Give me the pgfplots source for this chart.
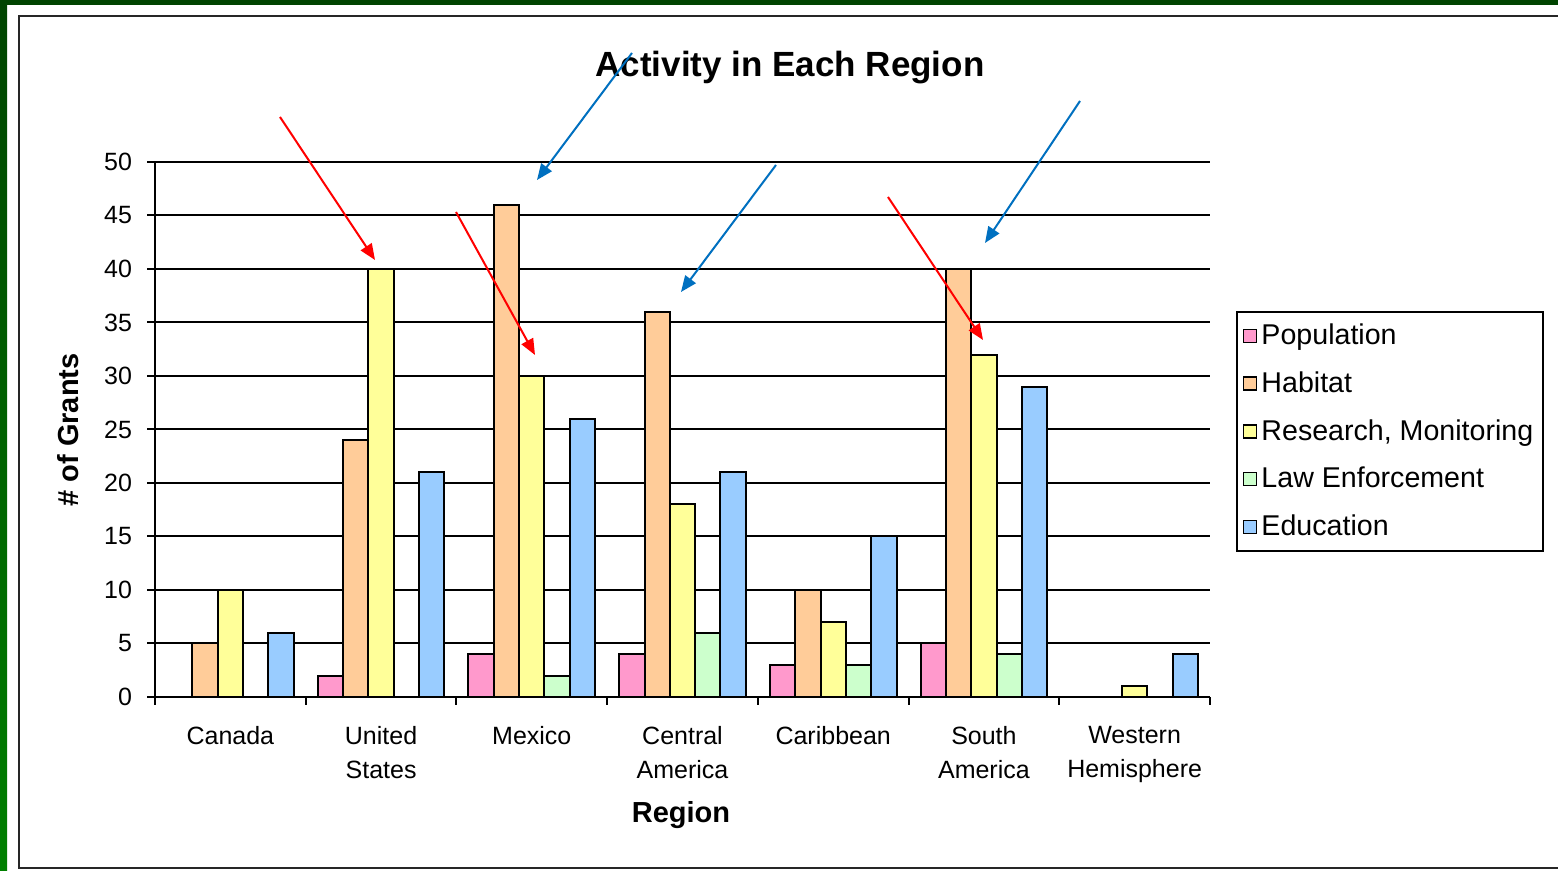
\documentclass[border=0pt]{standalone}
\usepackage{fontspec}
\setmainfont{Liberation Sans}
\usepackage{pgfplots}
\pgfplotsset{compat=1.18}
\usetikzlibrary{arrows.meta}

\definecolor{popc}{HTML}{FF99CC}
\definecolor{habc}{HTML}{FFCC99}
\definecolor{resc}{HTML}{FFFF99}
\definecolor{lawc}{HTML}{CCFFCC}
\definecolor{educ}{HTML}{99CCFF}
\definecolor{darkgr}{HTML}{004400}
\definecolor{brightgr}{HTML}{008000}
\definecolor{arrred}{HTML}{FF0000}
\definecolor{arrblue}{HTML}{0070C0}

\begin{document}
\begin{tikzpicture}[x=0.5pt,y=0.5pt]
% page background and slide frame
\useasboundingbox (0,0) rectangle (1558,871);
\fill[white] (0,0) rectangle (1558,871);
\shade[top color=darkgr,bottom color=brightgr] (0,0) rectangle (7,871);
\fill[darkgr] (0,866) rectangle (1558,871);
\draw[line width=1pt,black!85] (1558,855) -- (19,855) -- (19,3) -- (1558,3);

\begin{axis}[
  at={(77.5pt,87pt)}, anchor=south west,
  scale only axis,
  width=527.5pt, height=267.5pt,
  ybar,
  bar width=0.168,
  xmin=-0.5, xmax=6.5,
  ymin=0, ymax=50,
  ytick={0,5,...,50},
  xtick={0,...,6},
  xticklabels={Canada,United\\States,Mexico,Central\\America,Caribbean,South\\America,Western\\Hemisphere},
  minor xtick={-0.5,0.5,...,6.5},
  major x tick style={draw=none},
  minor x tick style={black,line width=1pt},
  minor tick length=4pt,
  major tick length=4pt,
  tick align=outside,
  axis x line*=bottom,
  axis y line*=left,
  axis line style={black,line width=1pt},
  y tick style={black,line width=1pt},
  ymajorgrids,
  grid style={black,line width=1pt},
  /pgf/number format/assume math mode=true,
  ticklabel style={font=\fontsize{12.5}{17}\selectfont},
  xticklabel style={align=center,yshift=-7pt},
  yticklabel style={xshift=-4pt},
  clip=false,
  legend cell align=left,
  legend style={at={(1.0247,0.7215)},anchor=north west,
    draw=black,line width=1pt,
    font=\fontsize{14.3}{16}\selectfont,
    row sep=8pt, inner xsep=3pt, inner ysep=4pt},
  legend image code/.code={\draw[#1,line width=0.7pt] (2pt,-3.25pt) rectangle (8.5pt,3.25pt);},
  every axis plot/.append style={draw=black,line width=1pt},
]
\addplot[fill=popc,bar shift=-0.336] coordinates {(1,2) (2,4) (3,4) (4,3) (5,5)};
\addplot[fill=habc,bar shift=-0.168] coordinates {(0,5) (1,24) (2,46) (3,36) (4,10) (5,40)};
\addplot[fill=resc,bar shift=0] coordinates {(0,10) (1,40) (2,30) (3,18) (4,7) (5,32) (6,1)};
\addplot[fill=lawc,bar shift=0.168] coordinates {(2,2) (3,6) (4,3) (5,4)};
\addplot[fill=educ,bar shift=0.336] coordinates {(0,6) (1,21) (2,26) (3,21) (4,15) (5,29) (6,4)};
\legend{Population,Habitat,{Research, Monitoring},Law Enforcement,Education}
\end{axis}

% titles
\node[font=\fontsize{17.5}{20}\selectfont\bfseries] at (790,803) {Activity in Each Region};
\node[font=\fontsize{14.5}{17}\selectfont\bfseries,rotate=90] at (68,441) {\# of Grants};
\node[font=\fontsize{14.5}{17}\selectfont\bfseries] at (681,56) {Region};

% annotation arrows
\begin{scope}[line width=1pt,-{Triangle[length=8pt,width=6.5pt]}]
\draw[arrred] (280,754) -- (375,611);
\draw[arrred] (456,659) -- (535,516);
\draw[arrred] (888,674) -- (983,531);
\draw[arrblue] (632,818) -- (537,691);
\draw[arrblue] (776,706) -- (681,579);
\draw[arrblue] (1080,770) -- (985,628);
\end{scope}
\end{tikzpicture}
\end{document}
